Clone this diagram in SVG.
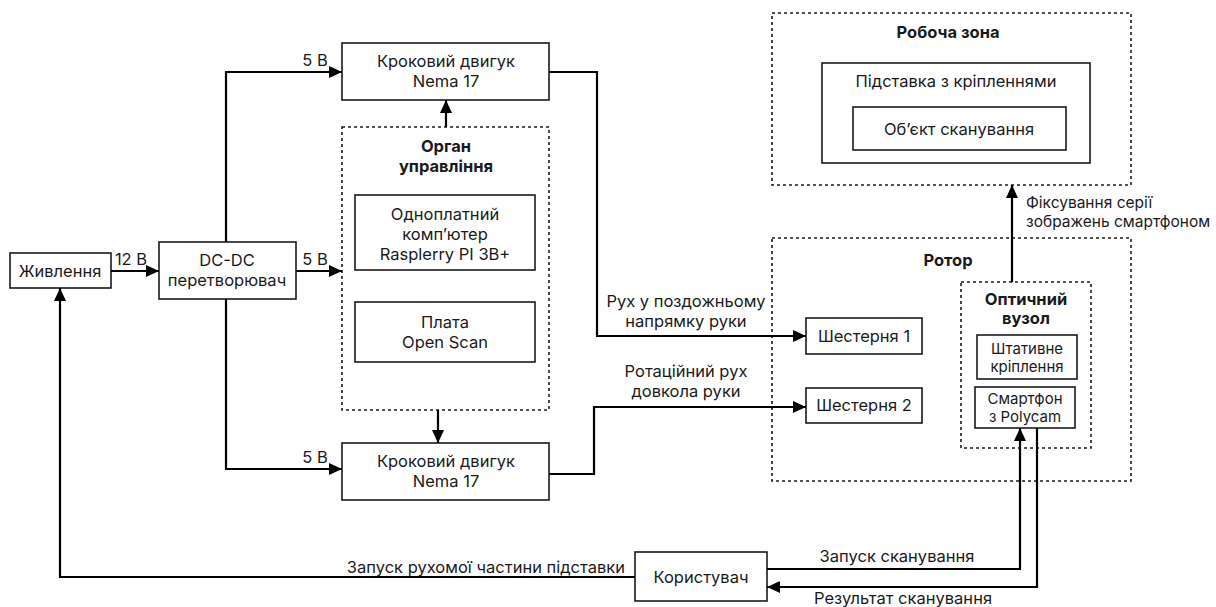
<svg xmlns="http://www.w3.org/2000/svg" width="1216" height="607" viewBox="0 0 1216 607">
<style>
text{font-family:Inter,"Noto Sans","Liberation Sans",sans-serif;font-size:16.5px;fill:#1a1a1a;text-anchor:middle}
.b{font-weight:bold}
.l{text-anchor:start}
.r{text-anchor:end}
.s{font-size:15px}
.box{fill:#fff;stroke:#1a1a1a;stroke-width:1.6}
.grp{fill:none;stroke:#1a1a1a;stroke-width:1.6;stroke-dasharray:3 3}
.ca{fill:none;stroke:#000;stroke-width:2.2;marker-end:url(#ah)}
</style>
<defs>
<marker id="ah" markerUnits="userSpaceOnUse" markerWidth="14" markerHeight="14" viewBox="0 0 14 14" refX="13" refY="7" orient="auto">
<path d="M0,1 L13,7 L0,13 Z" fill="#000"/>
</marker>
</defs>
<rect width="1216" height="607" fill="#fff"/>

<g id="grp-robocha">
<rect class="grp" x="772" y="13" width="359" height="172"/>
<text class="b" x="948" y="38">Робоча зона</text>
</g>
<g id="node-pidstavka">
<rect class="box" x="822" y="63" width="268" height="100"/>
<text x="956" y="87">Підставка з кріпленнями</text>
</g>
<g id="node-obiekt">
<rect class="box" x="853" y="107" width="213" height="43"/>
<text x="959" y="135">Об’єкт сканування</text>
</g>

<g id="grp-rotor">
<rect class="grp" x="772" y="238" width="359" height="243"/>
<text class="b" x="948" y="266">Ротор</text>
</g>
<g id="grp-optych">
<rect class="grp" x="961" y="282" width="130" height="166"/>
<text class="b" x="1026" y="305">Оптичний</text>
<text class="b" x="1026" y="324">вузол</text>
</g>
<g id="node-shtatyvne">
<rect class="box" x="977" y="335" width="100" height="44"/>
<text class="s" x="1027" y="354">Штативне</text>
<text class="s" x="1027" y="372">кріплення</text>
</g>
<g id="node-smartfon">
<rect class="box" x="975" y="387" width="100" height="41"/>
<text class="s" x="1025" y="404">Смартфон</text>
<text class="s" x="1025" y="422">з Polycam</text>
</g>
<g id="node-shesternia1">
<rect class="box" x="806" y="318" width="116" height="36"/>
<text x="864" y="342">Шестерня 1</text>
</g>
<g id="node-shesternia2">
<rect class="box" x="806" y="388" width="116" height="35"/>
<text x="864" y="411">Шестерня 2</text>
</g>

<g id="node-zhyvlennia">
<rect class="box" x="10" y="253" width="101" height="35"/>
<text x="60" y="277">Живлення</text>
</g>
<g id="node-dcdc">
<rect class="box" x="159" y="242" width="137" height="57"/>
<text x="227" y="266">DC-DC</text>
<text x="227" y="286">перетворювач</text>
</g>
<g id="node-motor1">
<rect class="box" x="342" y="43" width="207" height="57"/>
<text x="446" y="67">Кроковий двигук</text>
<text x="446" y="87">Nema 17</text>
</g>
<g id="grp-organ">
<rect class="grp" x="342" y="127" width="207" height="283"/>
<text class="b" x="446" y="152">Орган</text>
<text class="b" x="446" y="172">управління</text>
</g>
<g id="node-rpi">
<rect class="box" x="355" y="195" width="180" height="75"/>
<text x="445" y="220">Одноплатний</text>
<text x="445" y="240">комп’ютер</text>
<text x="445" y="260">Rasplerry PI 3B+</text>
</g>
<g id="node-plata">
<rect class="box" x="355" y="302" width="180" height="60"/>
<text x="445" y="328">Плата</text>
<text x="445" y="348">Open Scan</text>
</g>
<g id="node-motor2">
<rect class="box" x="342" y="443" width="207" height="57"/>
<text x="446" y="467">Кроковий двигук</text>
<text x="446" y="487">Nema 17</text>
</g>
<g id="node-korystuvach">
<rect class="box" x="635" y="552" width="132" height="49"/>
<text x="701" y="583">Користувач</text>
</g>

<g id="connectors">
<path class="ca" d="M111,271 H159"/>
<text x="131" y="265">12 В</text>
<path class="ca" d="M296,271 H342"/>
<text x="315" y="265">5 В</text>
<path class="ca" d="M226,242 V72 H342"/>
<text x="315" y="66">5 В</text>
<path class="ca" d="M226,299 V469 H342"/>
<text x="315" y="463">5 В</text>
<path class="ca" d="M446,127 V100"/>
<path class="ca" d="M438,410 V443"/>
<path class="ca" d="M549,72 H597 V336 H806"/>
<text x="686" y="307">Рух у поздожньому</text>
<text x="686" y="327">напрямку руки</text>
<path class="ca" d="M549,474 H594 V407 H806"/>
<text x="686" y="377">Ротаційний рух</text>
<text x="686" y="397">довкола руки</text>
<path class="ca" d="M1012,282 V185"/>
<text class="l" x="1026" y="208" style="font-size:15.5px">Фіксування серії</text>
<text class="l" x="1026" y="227" style="font-size:15.5px">зображень смартфоном</text>
<path class="ca" d="M767,569 H1020 V428"/>
<text x="897" y="562">Запуск сканування</text>
<path class="ca" d="M1037,428 V587 H767"/>
<text x="903" y="604">Результат сканування</text>
<path class="ca" d="M635,577 H60 V288"/>
<text class="r" x="625" y="573">Запуск рухомої частини підставки</text>
</g>
</svg>
